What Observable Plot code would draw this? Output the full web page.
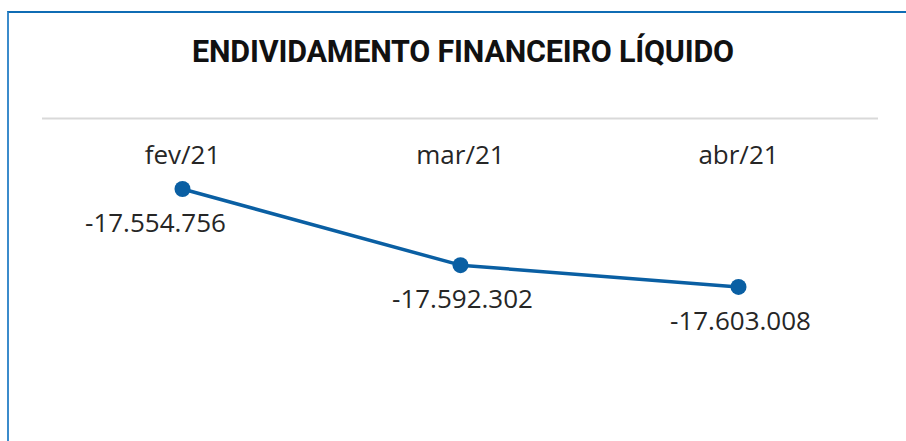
<!DOCTYPE html>
<html>
<head>
<meta charset="utf-8">
<script src="https://cdn.jsdelivr.net/npm/d3@7"></script>
<script src="https://cdn.jsdelivr.net/npm/@observablehq/plot@0.6"></script>
<style>
  html, body { margin: 0; padding: 0; background: #fff; }
  #wrap { position: relative; width: 906px; height: 441px; overflow: hidden; background: #fff; }
  #border { position: absolute; left: 7px; top: 11px; width: 1000px; height: 1000px;
            border-top: 2px solid #0f6cb4; border-left: 2px solid #3b8bcb; pointer-events: none; }
  #title { position: absolute; left: 0; top: 0; width: 926px; height: 117px; text-align: center;
           font-family: Roboto, sans-serif; font-weight: 700; font-size: 30.5px; color: #111;
           line-height: 104px; letter-spacing: -0.2px; }
  #chart { position: absolute; left: 0; top: 117px; }
</style>
</head>
<body>
<div id="wrap">
  <div id="title">ENDIVIDAMENTO FINANCEIRO LÍQUIDO</div>
  <div id="chart"></div>
  <div id="border"></div>
</div>
<script>
const months = ["fev/21", "mar/21", "abr/21"];
const values = [-17554756, -17592302, -17603008];
const yDomain = [-17660000, -17520000];

const data = months.map((m, i) => ({month: m, value: values[i]}));
const ptBR = d3.formatLocale({decimal: ",", thousands: ".", grouping: [3], currency: ["R$", ""], minus: "-"});
const fmt = ptBR.format(",d");

const color = "#0a5fa3";
const font = "'Open Sans', sans-serif";

const plot = Plot.plot({
  width: 906,
  height: 324,
  marginTop: 1,
  marginBottom: 39,
  marginLeft: 42,
  marginRight: 28,
  style: {fontFamily: font, background: "transparent"},
  x: {type: "point", domain: months, padding: 0.5, axis: null},
  y: {domain: yDomain, axis: null},
  marks: [
    Plot.ruleY([yDomain[1]], {stroke: "#d9d9d9", strokeWidth: 2}),
    Plot.text(months, {x: d => d, frameAnchor: "top", dy: 37, fontSize: 26, fill: "#262626", lineAnchor: "middle"}),
    Plot.line(data, {x: "month", y: "value", stroke: color, strokeWidth: 3.5}),
    Plot.dot(data, {x: "month", y: "value", r: 8, fill: color, stroke: null}),
    Plot.text(data.slice(0, 1), {x: "month", y: "value", text: d => fmt(d.value), dx: -27, dy: 35, fontSize: 26, fill: "#262626", lineAnchor: "middle"}),
    Plot.text(data.slice(1), {x: "month", y: "value", text: d => fmt(d.value), dx: 2, dy: 35, fontSize: 26, fill: "#262626", lineAnchor: "middle"})
  ]
});
document.getElementById("chart").appendChild(plot);
</script>
</body>
</html>
